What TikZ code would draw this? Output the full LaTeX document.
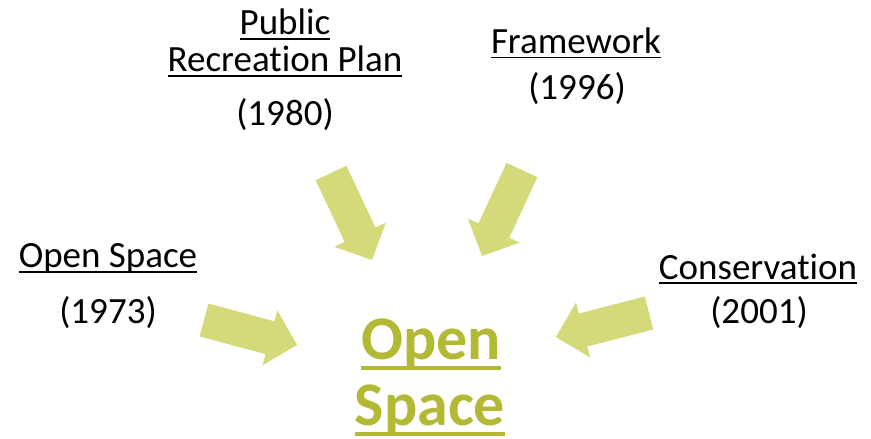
\documentclass[tikz,border=0pt]{standalone}
\usepackage{fontspec}
\setmainfont{Carlito}[Ligatures=NoCommon]
\usetikzlibrary{calc}
\definecolor{arrowfill}{RGB}{212,217,122}
\definecolor{olivetext}{RGB}{179,185,52}
\newcommand\myul[1]{\setbox0\hbox{#1}\rlap{\rule[-5pt]{\wd0}{1.8pt}}\box0}
\newcommand\bigul[1]{\setbox0\hbox{#1}\rlap{\rule[-11pt]{\wd0}{4pt}}\box0}
\newcommand\blockarrow[2]{%
  \coordinate (#1c) at ($(#2)!28pt!(#1)$);
  \fill[arrowfill] ($(#1)!17pt!90:(#2)$) -- ($(#1c)!17pt!90:(#2)$) -- ($(#1c)!28.5pt!90:(#2)$) -- (#2)
    -- ($(#1c)!28.5pt!-90:(#2)$) -- ($(#1c)!17pt!-90:(#2)$) -- ($(#1)!17pt!-90:(#2)$) -- cycle;}
\begin{document}
\begin{tikzpicture}[x=1pt,y=-1pt,
  lbl/.style={anchor=base,inner sep=0pt,font=\fontsize{37}{37}\selectfont},
  big/.style={anchor=base,inner sep=0pt,text=olivetext,font=\fontsize{62}{62}\selectfont\bfseries}]
\useasboundingbox (0,0) rectangle (871,439);
% labels
\node[lbl] (pub) at (285,34.5) {\myul{Public}};
\node[lbl] (rec) at (285,71.7) {\myul{Recreation Plan}};
\node[lbl] (y1980) at (285,125) {(1980)};
\node[lbl] (fw) at (576,53.3) {\myul{Framework}};
\node[lbl] (y1996) at (577,99.3) {(1996)};
\node[lbl] (os) at (108,267.5) {\myul{Open Space}};
\node[lbl] (y1973) at (108,323) {(1973)};
\node[lbl] (cons) at (758,279) {\myul{Conservation}};
\node[lbl] (y2001) at (759,323) {(2001)};
\node[big] (bopen) at (431,359) {\bigul{Open}};
\node[big] (bspace) at (430,425) {\bigul{Space}};
% arrows
\coordinate (t1) at (331,173); \coordinate (h1) at (372,260);
\coordinate (t2) at (522,170); \coordinate (h2) at (482,256);
\coordinate (t3) at (204,320); \coordinate (h3) at (297,345);
\coordinate (t4) at (649,313); \coordinate (h4) at (556,337);
\blockarrow{t1}{h1}
\blockarrow{t2}{h2}
\blockarrow{t3}{h3}
\blockarrow{t4}{h4}
\end{tikzpicture}
\end{document}
